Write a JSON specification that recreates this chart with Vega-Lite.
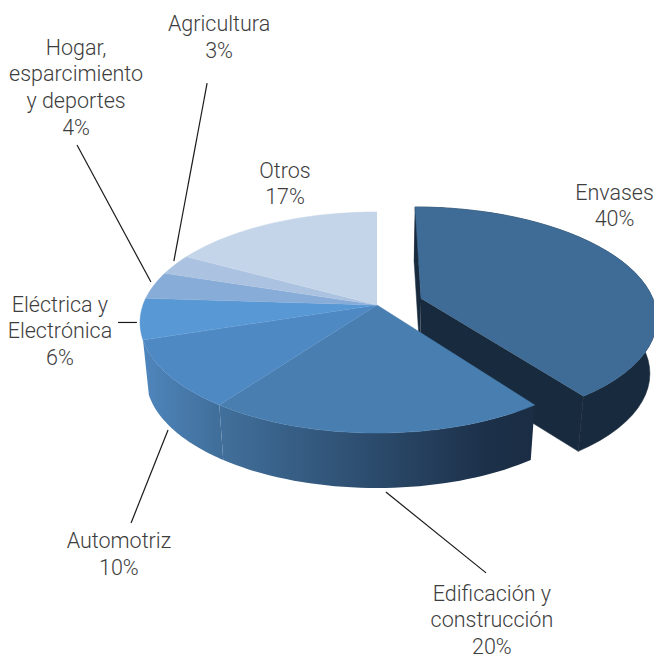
{
  "$schema": "https://vega.github.io/schema/vega-lite/v6.json",
  "width": 654,
  "height": 656,
  "padding": 0,
  "autosize": {"type": "none"},
  "background": "#ffffff",
  "view": {"stroke": null},
  "datasets": {
    "sectors": [
      {"sector": "Envases", "share": 40, "rank": 1},
      {"sector": "Edificación y construcción", "share": 20, "rank": 2},
      {"sector": "Automotriz", "share": 10, "rank": 3},
      {"sector": "Eléctrica y Electrónica", "share": 6, "rank": 4},
      {"sector": "Hogar, esparcimiento y deportes", "share": 4, "rank": 5},
      {"sector": "Agricultura", "share": 3, "rank": 6},
      {"sector": "Otros", "share": 17, "rank": 7}
    ],
    "callouts": [
      {"label": ["Agricultura", "3%"], "x": -0.675, "y": -2.593},
      {"label": ["Hogar,", "esparcimiento", "y deportes", "4%"], "x": -1.286, "y": -2.379},
      {"label": ["Otros", "17%"], "x": -0.393, "y": -1.238},
      {"label": ["Envases", "40%"], "x": 1.015, "y": -1.034},
      {"label": ["Eléctrica y", "Electrónica", "6%"], "x": -1.355, "y": 0.005},
      {"label": ["Automotriz", "10%"], "x": -1.103, "y": 2.203},
      {"label": ["Edificación y", "construcción", "20%"], "x": 0.491, "y": 2.686}
    ],
    "leaders": [
      {"sector": "Agricultura", "x": -0.726, "y": -2.059, "x2": -0.868, "y2": -0.408},
      {"sector": "Hogar", "x": -1.282, "y": -1.484, "x2": -0.966, "y2": -0.213},
      {"sector": "Eléctrica", "x": -1.107, "y": 0.162, "x2": -1.026, "y2": 0.162},
      {"sector": "Automotriz", "x": -0.893, "y": 1.16, "x2": -1.051, "y2": 2.022},
      {"sector": "Edificación", "x": 0.038, "y": 1.735, "x2": 0.466, "y2": 2.485}
    ]
  },
  "encoding": {
    "x": {"field": "x", "type": "quantitative", "axis": null, "scale": {"domain": [-1.6111, 1.1838], "nice": false, "zero": false}},
    "y": {"field": "y", "type": "quantitative", "axis": null, "scale": {"domain": [-2.8293, 3.256], "reverse": true, "nice": false, "zero": false}}
  },
  "layer": [
    {
      "data": {"name": "sectors"},
      "transform": [
        {"window": [{"op": "sum", "field": "share", "as": "cum"}], "sort": [{"field": "rank"}]},
        {"calculate": "datum.cum - datum.share", "as": "start"},
        {"calculate": "sequence(-1, 83)", "as": "step"},
        {"flatten": ["step"]},
        {"calculate": "clamp((datum.step <= 40 ? datum.step : 81 - datum.step) / 40, 0, 1)", "as": "t"},
        {"calculate": "datum.step < 0 || datum.step > 81 ? 0 : 1", "as": "ring"},
        {"calculate": "datum.step > 40 ? 1 : 0", "as": "floor"},
        {"calculate": "2 * PI * (datum.start + datum.t * datum.share) / 100", "as": "theta"},
        {"calculate": "datum.rank === 1 ? 0.2 : 0", "as": "pull"},
        {"calculate": "datum.ring * sin(datum.theta) + datum.pull * 0.951", "as": "u"},
        {"calculate": "-datum.ring * cos(datum.theta) - datum.pull * 0.309", "as": "v"},
        {"calculate": "1 - 0.158 * datum.v", "as": "depth"},
        {"calculate": "datum.u / datum.depth * (datum.floor ? 0.975 : 1)", "as": "x"},
        {"calculate": "datum.v / datum.depth + datum.floor * 0.51", "as": "y"}
      ],
      "layer": [
        {
          "transform": [{"filter": "datum.rank === 1 && indexof([-1, 0, 81, 82], datum.step) >= 0"}],
          "mark": {"type": "line", "fill": "#182a3d", "stroke": "#182a3d", "strokeWidth": 0.5},
          "encoding": {"order": {"field": "step"}}
        },
        {
          "transform": [{"filter": "datum.rank === 1 && indexof([-1, 40, 41, 82], datum.step) >= 0"}],
          "mark": {"type": "line", "fill": "#182a3d", "stroke": "#182a3d", "strokeWidth": 0.5},
          "encoding": {"order": {"field": "step"}}
        },
        {
          "transform": [{"filter": "datum.rank === 1 && datum.step >= 0 && datum.step <= 81"}],
          "mark": {"type": "line", "fill": "#182a3d", "stroke": "#182a3d", "strokeWidth": 0.5},
          "encoding": {"order": {"field": "step"}}
        },
        {
          "transform": [{"filter": "datum.rank === 3 && datum.step >= 0 && datum.step <= 81"}],
          "mark": {
            "type": "line",
            "strokeWidth": 0,
            "fill": {
              "gradient": "linear", "x1": 0, "y1": 0, "x2": 1, "y2": 0,
              "stops": [{"offset": 0, "color": "#4f86bd"}, {"offset": 1, "color": "#3f6d98"}]
            }
          },
          "encoding": {"order": {"field": "step"}}
        },
        {
          "transform": [{"filter": "datum.rank === 2 && datum.step >= 0 && datum.step <= 81"}],
          "mark": {
            "type": "line",
            "strokeWidth": 0,
            "fill": {
              "gradient": "linear", "x1": 0, "y1": 0, "x2": 1, "y2": 0,
              "stops": [{"offset": 0, "color": "#41709c"}, {"offset": 0.85, "color": "#1c3049"}, {"offset": 1, "color": "#1a2d44"}]
            }
          },
          "encoding": {"order": {"field": "step"}}
        },
        {
          "transform": [{"filter": "datum.step <= 40"}],
          "mark": {"type": "line", "strokeWidth": 0.5},
          "encoding": {
            "order": {"field": "step"},
            "fill": {
              "field": "sector", "type": "nominal", "legend": null,
              "scale": {
                "domain": ["Envases", "Edificación y construcción", "Automotriz", "Eléctrica y Electrónica", "Hogar, esparcimiento y deportes", "Agricultura", "Otros"],
                "range": ["#3f6c96", "#487eb0", "#4f89c3", "#5898d4", "#87acd8", "#abc2e0", "#c5d5e9"]
              }
            },
            "stroke": {
              "field": "sector", "type": "nominal", "legend": null,
              "scale": {
                "domain": ["Envases", "Edificación y construcción", "Automotriz", "Eléctrica y Electrónica", "Hogar, esparcimiento y deportes", "Agricultura", "Otros"],
                "range": ["#3f6c96", "#487eb0", "#4f89c3", "#5898d4", "#87acd8", "#abc2e0", "#c5d5e9"]
              }
            }
          }
        }
      ]
    },
    {
      "data": {"name": "leaders"},
      "mark": {"type": "rule", "color": "#1a1a1a", "strokeWidth": 1.2},
      "encoding": {
        "x2": {"field": "x2"},
        "y2": {"field": "y2"}
      }
    },
    {
      "data": {"name": "callouts"},
      "mark": {"type": "text", "font": "Roboto", "fontWeight": 300, "fontSize": 21.5, "lineHeight": 26.7, "color": "#3d3d3d", "align": "center", "baseline": "middle"},
      "encoding": {"text": {"field": "label"}}
    }
  ]
}
